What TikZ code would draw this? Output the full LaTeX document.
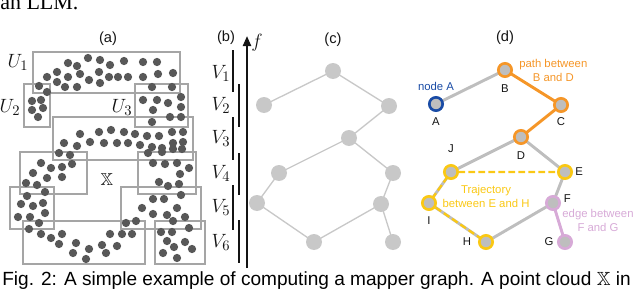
\documentclass[tikz,border=0pt]{standalone}
\usepackage{amsmath,amssymb}
\usepackage{fontspec}
\setsansfont{Liberation Sans}
\newfontfamily\capserif{Liberation Serif}
\usepackage{tikz}
\usetikzlibrary{arrows.meta,positioning,backgrounds}
\usepackage{xcolor}
\definecolor{ink}{RGB}{20,20,20}
\definecolor{dot}{RGB}{88,88,88}
\definecolor{frame}{RGB}{165,165,165}
\definecolor{lite}{RGB}{200,200,200}
\definecolor{mid}{RGB}{190,190,190}
\definecolor{nda}{RGB}{25,75,165}
\definecolor{pth}{RGB}{245,150,40}
\definecolor{trj}{RGB}{250,200,20}
\definecolor{edg}{RGB}{215,170,215}
\tikzset{
  cover/.style={draw=frame,line width=1.5pt},
  ttl/.style={font=\sffamily\fontsize{11}{13}\selectfont,text=ink,inner sep=0pt},
  mlbl/.style={font=\fontsize{15}{18}\selectfont,text=ink,inner sep=0pt},
  bar/.style={draw=ink,line width=1.5pt},
  farr/.style={-{Triangle[length=7.5pt,width=6pt]},line width=1.6pt,ink},
  cnode/.style={circle,fill=lite,minimum size=12pt,inner sep=0pt},
  cedge/.style={draw=lite,line width=1pt},
  dnode/.style={circle,fill=mid,draw=mid,line width=2pt,minimum size=10pt,inner sep=0pt},
  dedge/.style={draw=mid,line width=2.2pt},
  trail/.style={draw=trj,line width=1.7pt,dash pattern=on 5pt off 2.5pt},
  lbl/.style={font=\sffamily\fontsize{8.5}{10.5}\selectfont,text=ink,inner sep=0pt,align=center},
}

\begin{document}
\begin{tikzpicture}[x=0.75pt,y=-0.75pt]
  \useasboundingbox (0,0) rectangle (640,289);
  \clip (0,0) rectangle (640,289);
  \node[anchor=base west,inner sep=0pt,font=\capserif\fontsize{16.5}{19}\selectfont] (prev) at (0,10) {an LLM.};
  \node[anchor=base west,inner sep=0pt,font=\sffamily\fontsize{14.3}{17}\selectfont] (caption) at (2,285)
    {Fig. 2: A simple example of computing a mapper graph. A point cloud $\mathbb{X}$ in};

  \node[ttl] (ta) at (108,39) {(a)};
  \draw[cover] (33,52) rectangle (180,93);
  \draw[cover] (24,84) rectangle (50,127);
  \draw[cover] (135,84) rectangle (188,127);
  \draw[cover] (53,117) rectangle (193,160);
  \draw[cover] (20,152) rectangle (87,194);
  \draw[cover] (138,152) rectangle (196,194);
  \draw[cover] (10,187) rectangle (54,229);
  \draw[cover] (121,187) rectangle (201,229);
  \draw[cover] (23,221) rectangle (145,264);
  \draw[cover] (155,221) rectangle (205,264);
  \foreach \x/\y in {68/63,77/66,88/58,100/60,110/65,124/61,143/62,157/62,
      57/72,68/77,80/74,99/72,109/77,118/77,128/77,143/77,158/74,173/73,
      47/77,57/82,65/87,77/87,89/80,100/83,39/86,47/92,152/87,172/87,
      32/101,41/100,32/110,43/108,38/117,
      143/100,157/100,168/103,181/97,153/110,181/107,170/117,181/117,152/122,
      80/134,99/132,111/130,124/132,135/134,147/136,159/136,172/132,183/132,
      64/143,77/146,90/142,104/143,117/143,128/143,140/145,152/147,162/148,173/143,183/142,
      59/153,70/155,148/153,162/152,173/149,182/149,
      41/163,51/168,62/167,72/164,33/173,47/178,62/177,26/183,37/185,
      153/163,165/164,177/163,189/168,180/174,159/182,168/186,179/184,
      45/192,27/196,21/204,33/206,43/203,45/213,18/217,30/217,39/223,29/229,
      41/234,51/238,62/234,59/244,76/243,73/253,89/249,86/259,102/245,110/234,
      106/253,117/246,122/234,132/234,126/223,136/221,142/208,153/199,164/199,181/195,
      153/214,167/215,177/208,185/217,173/221,161/232,172/232,189/228,167/241,174/247,
      185/242,163/253,192/249,177/258}
    \fill[dot] (\x,\y) circle (3.1pt);
  \node[mlbl] (u1) at (18,62) {$U_1$};
  \node[mlbl] (u2) at (10,107) {$U_2$};
  \node[mlbl] (u3) at (122,107) {$U_3$};
  \node[mlbl,font=\fontsize{13}{15}\selectfont] (xx) at (107,180) {$\mathbb{X}$};

  \node[ttl] (tb) at (226,38) {(b)};
  \coordinate (fbot) at (247,268);
  \coordinate (ftop) at (247,36);
  \draw[farr] (fbot) -- (ftop);
  \node[mlbl] (f) at (257,43) {$f$};
  \foreach \ya/\yb in {50/92,117/160,185/230}
    \draw[bar] (233,\ya) -- (233,\yb);
  \foreach \ya/\yb in {84/127,153/195,220/263}
    \draw[bar] (238.5,\ya) -- (238.5,\yb);
  \foreach \i/\y in {1/73,2/105,3/138,4/173,5/207,6/242}
    \node[mlbl] (v\i) at (221,\y) {$V_{\i}$};

  \node[ttl] (tc) at (333,40) {(c)};
  \node[cnode] (cB) at (333,71) {};
  \node[cnode] (cA) at (264,105) {};
  \node[cnode] (cC) at (389,106) {};
  \node[cnode] (cD) at (349,138) {};
  \node[cnode] (cJ) at (279,173) {};
  \node[cnode] (cE) at (393,173) {};
  \node[cnode] (cI) at (257,203) {};
  \node[cnode] (cF) at (381,204) {};
  \node[cnode] (cH) at (314,242) {};
  \node[cnode] (cG) at (393,242) {};
  \begin{scope}[on background layer]
    \foreach \a/\b in {A/B,B/C,C/D,D/J,D/E,J/I,E/F,I/H,H/F,F/G}
      \draw[cedge] (c\a.center) -- (c\b.center);
  \end{scope}

  \node[ttl] (td) at (505,38) {(d)};
  \node[dnode,draw=pth] (B) at (505,70) {};
  \node[dnode,draw=nda] (A) at (436,104) {};
  \node[dnode,draw=pth] (C) at (561,105) {};
  \node[dnode,draw=pth] (D) at (521,137) {};
  \node[dnode,draw=trj] (J) at (451,172) {};
  \node[dnode,draw=trj] (E) at (565,172) {};
  \node[dnode,draw=trj] (I) at (429,203) {};
  \node[dnode,draw=edg] (F) at (553,203) {};
  \node[dnode,draw=trj] (H) at (486,242) {};
  \node[dnode,draw=edg] (G) at (565,242) {};
  \begin{scope}[on background layer]
    \foreach \a/\b in {A/B,D/J,D/E,J/I,E/F,I/H,H/F}
      \draw[dedge] (\a.center) -- (\b.center);
    \draw[dedge,pth] (B.center) -- (C.center) -- (D.center);
    \draw[dedge,edg] (F.center) -- (G.center);
    \draw[trail] (E.center) -- (J.center) -- (I.center) -- (H.center);
  \end{scope}
  \node[lbl,below=3.75pt of A] {A};
  \node[lbl,below=4.5pt of B] {B};
  \node[lbl,below=3pt of C] {C};
  \node[lbl,below=4.5pt of D] {D};
  \node[lbl,above=8pt of J] {J};
  \node[lbl,right=1.5pt of E] {E};
  \node[lbl,right=2pt of F,yshift=3pt] {F};
  \node[lbl,below=3.75pt of I] {I};
  \node[lbl,left=5pt of H] {H};
  \node[lbl,left=2.5pt of G] {G};
  \node[lbl,text=nda,above=3.5pt of A] {node A};
  \node[lbl,text=pth,right=4.5pt of B] {path between\\B and D};
  \node[lbl,text=trj] at (486,196) {Trajectory\\between E and H};
  \node[lbl,text=edg] at (598,220) {edge between\\F and G};
\end{tikzpicture}
\end{document}
